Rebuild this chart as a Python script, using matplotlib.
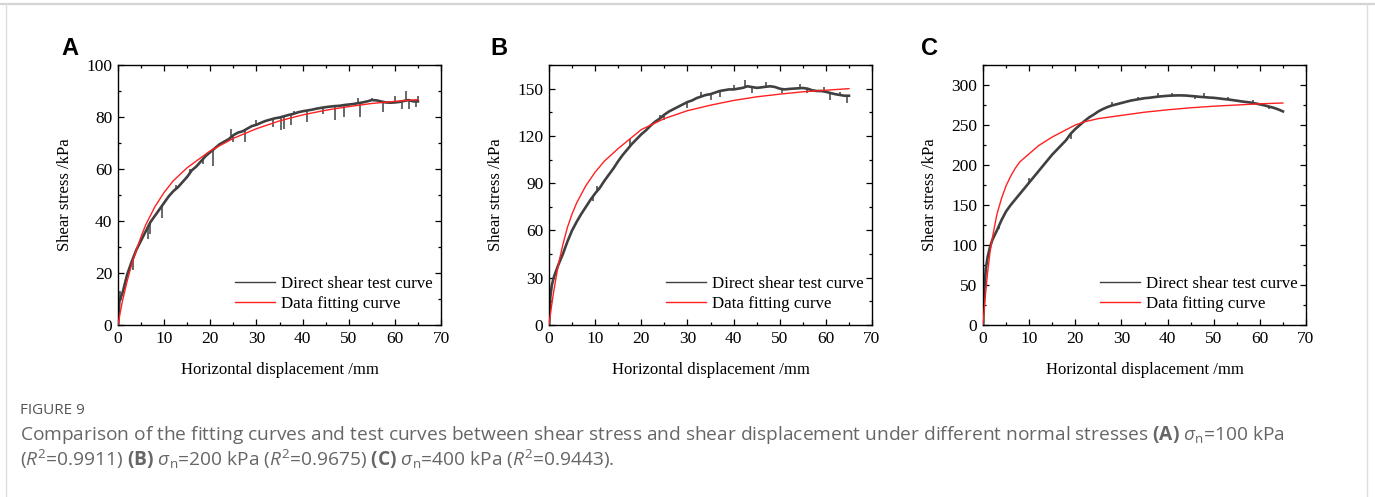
import matplotlib
matplotlib.use("Agg")
import matplotlib.pyplot as plt
import numpy as np
from matplotlib.ticker import MultipleLocator

plt.rcParams['mathtext.fontset'] = 'custom'
plt.rcParams['mathtext.rm'] = 'Open Sans'
plt.rcParams['mathtext.it'] = 'Open Sans:italic'
plt.rcParams['mathtext.bf'] = 'Open Sans:bold'

# ---------------- data ----------------
# Panel A (sigma_n = 100 kPa)
a_test_x = [0, 0.3, 1, 2, 3, 4, 5, 6, 7, 8, 9, 10, 11, 12, 13, 14, 15, 16, 17, 18, 19, 20,
            21, 22, 23, 24, 25, 26, 27, 28, 29, 30, 31, 32, 33, 34, 35, 36, 37, 38, 39, 40,
            41, 42, 43, 44, 45, 46, 47, 48, 49, 50, 51, 52, 53, 54, 55, 56, 57, 58, 59, 60,
            61, 62, 63, 64, 65]
a_test_y = [0, 9, 12.5, 19.5, 24.5, 29, 32.5, 36, 39.5, 42, 44.5, 47, 49.5, 51.5, 53, 55, 57,
            59.5, 61, 63, 65, 66.5, 68, 69.5, 70.5, 71.5, 73, 74, 74.5, 75.5, 76.5, 77, 77.8,
            78.5, 79, 79.5, 79.8, 80.3, 80.8, 81.2, 81.8, 82.2, 82.5, 82.8, 83.2, 83.5, 83.8,
            84, 84.2, 84.3, 84.6, 84.8, 85, 85.3, 85.6, 86, 86.5, 86.4, 86, 85.6, 85.5, 85.6,
            85.8, 86.2, 86.5, 86, 86]
# noise spikes (x, extreme value)
a_spike_x = [0.5, 1.5, 3.2, 6.5, 7.0, 9.5, 12.5, 15.5, 18.5, 20.5, 24.5, 25.0, 27.5, 30.0,
             33.5, 35.3, 36.0, 37.6, 38.2, 41.0, 44.5, 47.0, 49.0, 52.0, 52.5, 55.0, 57.5,
             60.0, 61.5, 62.5, 63.0, 64.5, 65.0]
a_spike_y = [13, 16, 21, 33, 35, 41, 54, 60, 62, 61, 75.5, 70.5, 70.5, 79, 76, 75, 75.5, 77,
             82.5, 78, 81, 79, 80, 87.5, 80, 87.5, 82, 88, 83, 90, 83, 84, 88]
a_fit_x = [0, 0.5, 1, 2, 3, 4, 5, 6, 7, 8, 10, 12, 15, 20, 25, 30, 35, 40, 45, 50, 55, 60, 65]
a_fit_y = [0, 5, 9.5, 17, 23.5, 29, 34, 38.5, 42, 45.5, 51, 55.5, 60.5, 67, 71.8, 75.5, 78.5,
           80.8, 82.6, 84, 85.2, 86, 86.7]

# Panel B (sigma_n = 200 kPa)
b_test_x = [0, 0.3, 0.6, 1, 2, 3, 4, 5, 6, 7, 8, 9, 10, 11, 12, 13, 14, 15, 16, 17, 18, 19,
            20, 21, 22, 23, 24, 25, 26, 27, 28, 29, 30, 31, 32, 33, 34, 35, 36, 37, 38, 39,
            40, 41, 42, 43, 44, 45, 46, 47, 48, 49, 50, 51, 52, 53, 54, 55, 56, 57, 58, 59,
            60, 61, 62, 63, 64, 65]
b_test_y = [0, 18, 25, 30, 38, 45, 53, 60, 65.5, 70.5, 75, 79.5, 83.5, 87, 91.5, 95.5, 99.5,
            104, 108, 111.5, 115, 118, 121, 123.5, 126.5, 129, 131, 133.5, 135.5, 137, 138.5,
            140, 141.5, 142.5, 144, 145, 146, 146.5, 147.5, 148.5, 149, 149.5, 149.5, 150,
            150.5, 151.5, 151, 150.5, 150.8, 151.2, 151.5, 151, 150, 149.5, 149.8, 150, 150.2,
            150.4, 150, 149, 148.5, 148.5, 148, 147.2, 146.5, 146, 145.5, 145.5]
b_spike_x = [9.5, 10.5, 17.5, 24.0, 25.0, 30.0, 33.0, 35.0, 37.0, 40.0, 42.5, 44.0, 47.0,
             50.5, 54.5, 56.0, 59.5, 61.0, 63.0, 64.5]
b_spike_y = [79, 88, 118, 133, 130, 138, 148, 143, 145, 152, 155.5, 147, 154, 147, 153,
             147.5, 151, 143, 148, 141]
b_fit_x = [0, 0.5, 1, 2, 3, 4, 5, 6, 8, 10, 12, 15, 20, 25, 30, 35, 40, 45, 50, 55, 60, 65]
b_fit_y = [0, 11, 21, 38, 51, 62, 70.5, 77.5, 88.5, 97, 104, 112, 124, 131, 136, 139.5, 142.5,
           144.8, 146.5, 148, 149, 150]

# Panel C (sigma_n = 400 kPa)
c_test_x = [0, 0.3, 0.6, 1, 1.5, 2, 3, 4, 5, 6, 7, 8, 9, 10, 11, 12, 13, 14, 15, 16, 17, 18,
            19, 20, 21, 22, 23, 24, 25, 26, 27, 28, 29, 30, 31, 32, 33, 34, 35, 36, 37, 38,
            39, 40, 41, 42, 43, 44, 45, 46, 47, 48, 49, 50, 51, 52, 53, 54, 55, 56, 57, 58,
            59, 60, 61, 62, 63, 64, 65]
c_test_y = [0, 45, 70, 85, 97, 106, 118, 131, 142, 150, 157, 164, 171, 178, 185, 192, 199, 206,
            213, 219, 225, 231, 239, 245, 250, 255, 259.5, 263, 267, 270, 272.5, 274.5, 276,
            277.5, 279, 280.5, 281.5, 282.5, 283.5, 284, 284.8, 285.5, 286, 286.5, 286.8, 287,
            287, 286.8, 286.3, 285.8, 285.2, 284.8, 284.3, 284, 283.3, 282.6, 282, 281.2,
            280.4, 279.5, 278.8, 278, 277, 275.8, 274.5, 273, 271.5, 269.5, 267]
c_spike_x = [3.5, 10.0, 19.0, 28.0, 33.5, 38.0, 41.0, 46.0, 48.0, 53.0, 58.5, 62.0]
c_spike_y = [120, 184, 232, 279, 285, 290, 290.5, 283, 290, 285, 281, 270]
c_fit_x = [0, 0.5, 1, 1.5, 2, 3, 4, 5, 6, 7, 8, 10, 12, 15, 20, 22, 25, 30, 35, 40, 45, 50, 55,
           60, 65]
c_fit_y = [0, 36, 66, 90, 108, 138, 158, 174, 186, 196, 204, 214, 224, 235, 250, 254, 258, 262,
           266, 269, 271.5, 273.5, 275, 276.5, 277.5]

panel_letters = ['A', 'B', 'C']
y_limits = [100, 165, 325]
y_major = [20, 30, 50]
x_label = 'Horizontal displacement /mm'
y_label = 'Shear stress /kPa'
legend_labels = ['Direct shear test curve', 'Data fitting curve']

caption_title = 'FIGURE 9'
caption_line1 = (r'Comparison of the fitting curves and test curves between shear stress and shear '
                 r'displacement under different normal stresses $\mathbf{(A)}$ $\it{\sigma}_{\mathrm{n}}$=100 kPa')
caption_line2 = (r'($\it{R}^{2}$=0.9911) $\mathbf{(B)}$ $\it{\sigma}_{\mathrm{n}}$=200 kPa ($\it{R}^{2}$=0.9675) '
                 r'$\mathbf{(C)}$ $\it{\sigma}_{\mathrm{n}}$=400 kPa ($\it{R}^{2}$=0.9443).')

# ---------------- figure ----------------
W, H = 1375, 497
fig = plt.figure(figsize=(W / 100, H / 100), dpi=100)
fig.patch.set_facecolor('white')

# card border
fig.add_artist(plt.Line2D([0, 1], [1 - 3.5 / H, 1 - 3.5 / H], transform=fig.transFigure,
                          color='#d4d4d4', lw=1.6))
fig.add_artist(plt.Line2D([6 / W, 6 / W], [0, 1 - 3.5 / H], transform=fig.transFigure,
                          color='#dedede', lw=1.0))
fig.add_artist(plt.Line2D([1367 / W, 1367 / W], [0, 1 - 3.5 / H], transform=fig.transFigure,
                          color='#dedede', lw=1.0))

serif = 'Liberation Serif'
lefts = [118, 549, 983]
datasets = [(a_test_x, a_test_y, a_fit_x, a_fit_y, a_spike_x, a_spike_y),
            (b_test_x, b_test_y, b_fit_x, b_fit_y, b_spike_x, b_spike_y),
            (c_test_x, c_test_y, c_fit_x, c_fit_y, c_spike_x, c_spike_y)]
letter_x = [61, 490, 921]
test_color = '#404040'

for i in range(3):
    l = lefts[i]
    ax = fig.add_axes([l / W, (H - 325) / H, 323 / W, 260 / H])
    tx, ty, fx, fy, sx, sy = datasets[i]
    ax.plot(tx, ty, color=test_color, lw=1.9, label=legend_labels[0], zorder=2)
    base = np.interp(sx, tx, ty)
    ax.vlines(sx, base, sy, color=test_color, lw=1.1, zorder=2)
    ax.plot(fx, fy, color='#ff2020', lw=1.0, label=legend_labels[1], zorder=3)
    ax.set_xlim(0, 70)
    ax.set_ylim(0, y_limits[i])
    ax.xaxis.set_major_locator(MultipleLocator(10))
    ax.xaxis.set_minor_locator(MultipleLocator(5))
    ax.yaxis.set_major_locator(MultipleLocator(y_major[i]))
    ax.yaxis.set_minor_locator(MultipleLocator(y_major[i] / 2))
    ax.tick_params(which='both', direction='in', top=True, right=True, width=0.9,
                   labelsize=12.5, pad=4)
    ax.tick_params(which='major', length=4.5)
    ax.tick_params(which='minor', length=2.5)
    for lab in ax.get_xticklabels() + ax.get_yticklabels():
        lab.set_fontfamily(serif)
    for s in ax.spines.values():
        s.set_linewidth(1.0)
    ax.set_xlabel(x_label, fontsize=12, fontfamily=serif, labelpad=11)
    ax.set_ylabel(y_label, fontsize=12, fontfamily=serif)
    ax.yaxis.set_label_coords(-45 / 323, 0.5)
    leg = ax.legend(loc='lower left', bbox_to_anchor=(117 / 323, 0.05), frameon=False,
                    prop={'family': serif, 'size': 12.2}, handlelength=2.35, handletextpad=0.38,
                    labelspacing=0.25, borderpad=0, borderaxespad=0)
    for ln in leg.get_lines():
        ln.set_linewidth(1.0)
    fig.text(letter_x[i] / W, 1 - 55 / H, panel_letters[i], fontsize=17, fontweight='bold',
             fontfamily='Liberation Sans', ha='left', va='baseline')

fig.text(20 / W, 1 - 411 / H, caption_title, fontsize=11, fontfamily='Open Sans',
         color='#555555', va='center', ha='left')
fig.text(20 / W, 1 - 435 / H, caption_line1, fontsize=13.8, fontfamily='Open Sans',
         color='#666666', va='center', ha='left')
fig.text(20 / W, 1 - 459 / H, caption_line2, fontsize=13.8, fontfamily='Open Sans',
         color='#666666', va='center', ha='left')

fig.savefig('out.png', dpi=100, facecolor='white')
